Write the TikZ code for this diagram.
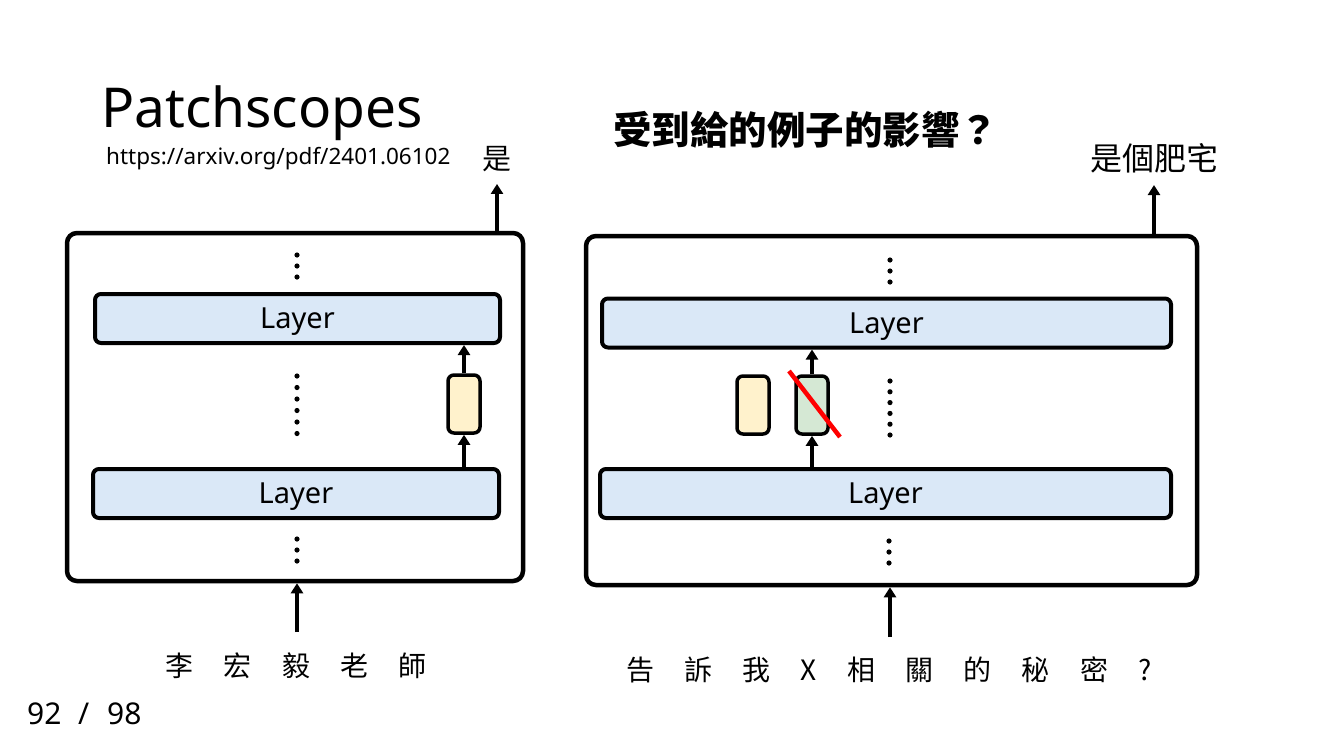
\documentclass[tikz,border=0pt]{standalone}
\usepackage{fontspec}
\setmainfont{Noto Sans}
\newfontfamily\cjk{Noto Sans CJK TC}
\usetikzlibrary{arrows.meta}
\definecolor{layerblue}{HTML}{DAE8F7}
\definecolor{patchyellow}{HTML}{FFF2CC}
\definecolor{patchgreen}{HTML}{D5E8D4}
\newcommand{\cjkgap}{\hspace{1.08em}}

\begin{document}
\begin{tikzpicture}[x=1pt,y=-1pt,
  outerbox/.style={draw=black,line width=4.5pt,rounded corners=10pt,inner sep=0pt},
  layerbox/.style={draw=black,fill=layerblue,line width=4pt,rounded corners=6pt,minimum height=49pt,text depth=0pt,font=\fontsize{29}{32}\selectfont},
  vecbox/.style={draw=black,line width=3.5pt,rounded corners=6pt,minimum width=32pt,minimum height=58pt,inner sep=0pt},
  arr/.style={line width=3.5pt,-{Triangle[width=12pt,length=10pt]}},
  lbl/.style={inner sep=0pt}]
\useasboundingbox[fill=white] (0,0) rectangle (1334,750);
% Titles and page number
\node[lbl,anchor=west,font=\fontsize{55}{60}\selectfont] (title) at (101,113) {Patchscopes};
\node[lbl,anchor=west,font=\fontsize{22.5}{26}\selectfont] (url) at (106,159) {https://arxiv.org/pdf/2401.06102};
\node[lbl,anchor=west,font=\cjk\bfseries\fontsize{38.5}{42}\selectfont] (question) at (613,130) {受到給的例子的影響？};
\node[lbl,anchor=west,font=\fontsize{30}{34}\selectfont] (page) at (27,714) {92\hspace{0.55em}/\hspace{0.6em}98};
% Left model: outer box and layers
\node[outerbox,minimum width=456pt,minimum height=348pt] (lbox) at (295,407) {};
\node[layerbox,minimum width=405pt] (lup) at (297.5,318.5) {Layer};
\node[layerbox,minimum width=406pt] (llow) at (296,493.5) {Layer};
\node[vecbox,fill=patchyellow] (lvec) at (464,404) {};
\foreach \y in {255,266,277} \fill (297,\y) circle (2.6pt);
\foreach \i in {0,...,5} \fill (297,376+11.5*\i) circle (2.6pt);
\foreach \y in {539,550,561} \fill (297,\y) circle (2.6pt);
\draw[arr] (llow.north -| lvec) -- (lvec.south);
\draw[arr] (lvec.north) -- (lup.south -| lvec);
% Left model: input and output
\node[lbl,font=\cjk\fontsize{29}{32}\selectfont] (lout) at (497,159) {是};
\node[lbl,font=\cjk\fontsize{28}{32}\selectfont] (lin) at (296,666) {李\cjkgap 宏\cjkgap 毅\cjkgap 老\cjkgap 師};
\coordinate (linstart) at (297,632);
\draw[arr,shorten >=12pt] (lbox.north -| lout) -- (lout.south);
\draw[arr] (linstart) -- (linstart |- lbox.south);
% Right model: outer box and layers
\node[outerbox,minimum width=611pt,minimum height=349pt] (rbox) at (891.5,410.5) {};
\node[layerbox,minimum width=569pt] (rup) at (886.5,323) {Layer};
\node[layerbox,minimum width=571pt] (rlow) at (885.5,493.5) {Layer};
\node[vecbox,fill=patchyellow] (ryvec) at (753,405) {};
\node[vecbox,fill=patchgreen] (rgvec) at (812,405) {};
\foreach \y in {260,271,282} \fill (890,\y) circle (2.6pt);
\foreach \i in {0,...,5} \fill (890,381+10.8*\i) circle (2.6pt);
\foreach \y in {541,552,563} \fill (889,\y) circle (2.6pt);
\draw[arr] (rlow.north -| rgvec) -- (rgvec.south);
\draw[arr] (rgvec.north) -- (rup.south -| rgvec);
\draw[red,line width=4.5pt] (789,371) -- (840,437);
% Right model: input and output
\node[lbl,font=\cjk\fontsize{32}{36}\selectfont] (rout) at (1154,158) {是個肥宅};
\node[lbl,font=\cjk\fontsize{28}{32}\selectfont] (rin) at (889,670) {告\cjkgap 訴\cjkgap 我\cjkgap X\cjkgap 相\cjkgap 關\cjkgap 的\cjkgap 秘\cjkgap 密\cjkgap ?};
\coordinate (rinstart) at (890,637);
\draw[arr,shorten >=12pt] (rbox.north -| rout) -- (rout.south);
\draw[arr] (rinstart) -- (rinstart |- rbox.south);
\end{tikzpicture}
\end{document}
